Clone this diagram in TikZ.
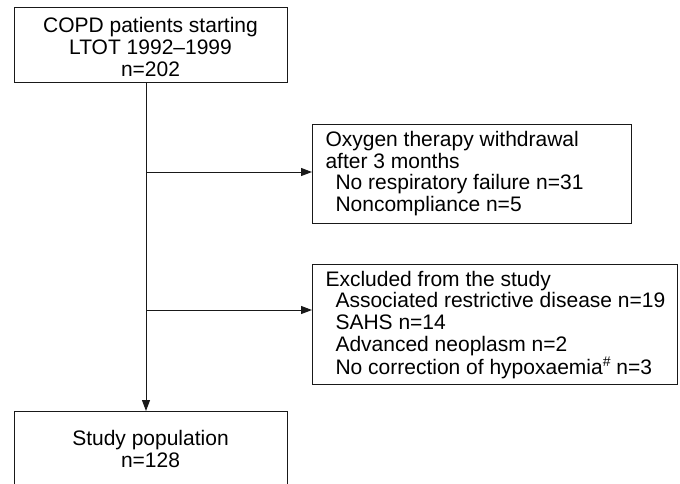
\documentclass[tikz,border=0pt]{standalone}
\usepackage{fontspec}
\setmainfont{Liberation Sans}
\usetikzlibrary{arrows.meta,calc}
\tikzset{
  box/.style={draw=black!90, line width=1pt, rectangle, inner sep=0pt, outer sep=0pt},
  conn/.style={draw=black!90, line width=1pt},
  arr/.style={conn, -{Triangle[length=11pt,width=8pt]}},
  txt/.style={font=\fontsize{21}{21.7}\selectfont}
}
\newcommand{\ind}{\hspace*{10pt}}
\newcommand{\hashsup}{\raisebox{0.42em}{\fontsize{14}{14}\selectfont\#}}
\begin{document}
\begin{tikzpicture}[x=1pt,y=-1pt]
\useasboundingbox (0,0) rectangle (680,483);
\clip (0,0) rectangle (680,483);
% boxes
\node[box, minimum width=273pt, minimum height=75pt, anchor=north west] (top) at (14,7) {};
\node[txt, align=center] (toptxt) at (150.5,47) {COPD patients starting\\LTOT 1992--1999\\n=202};
\node[box, minimum width=319pt, minimum height=99pt, anchor=north west] (wd) at (312,124) {};
\node[txt, align=left, anchor=west] (wdtxt) at (322,173.5) {Oxygen therapy withdrawal\\after 3 months\\\ind No respiratory failure n=31\\\ind Noncompliance n=5};
\node[box, minimum width=365pt, minimum height=120pt, anchor=north west] (ex) at (312,264) {};
\node[txt, align=left, anchor=west] (extxt) at (322,325) {Excluded from the study\\\ind Associated restrictive disease n=19\\\ind SAHS n=14\\\ind Advanced neoplasm n=2\\\ind No correction of hypoxaemia\hashsup{} n=3};
\node[box, minimum width=273pt, minimum height=76pt, anchor=north west] (sp) at (14,411) {};
\node[txt, align=center] (sptxt) at (150.5,449) {Study population\\n=128};
% connectors
\coordinate (s) at (146,82);
\coordinate (j1) at (146,172);
\coordinate (j2) at (146,310);
\draw[arr] (s) -- (s |- sp.north);
\draw[arr] (j1) -- (j1 -| wd.west);
\draw[arr] (j2) -- (j2 -| ex.west);
\end{tikzpicture}
\end{document}
